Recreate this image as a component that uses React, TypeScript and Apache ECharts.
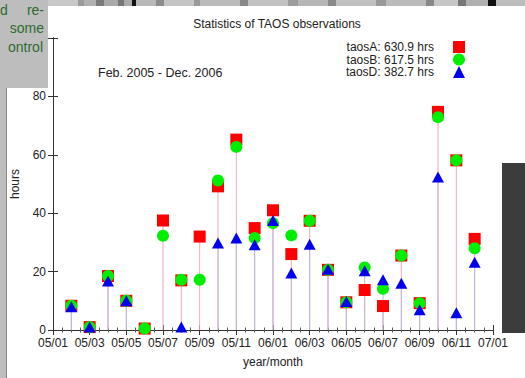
import React, { useEffect, useRef } from "react";
import * as echarts from "echarts";

// month index: 1 = 2005/02 ... 23 = 2006/12
const tickLabels = ["05/01", "05/03", "05/05", "05/07", "05/09", "05/11", "06/01", "06/03", "06/05", "06/07", "06/09", "06/11", "07/01"];
const seriesNames = ["taosA", "taosB", "taosD"];
const totals = ["630.9", "617.5", "382.7"];
const taosA = [8.3, 1, 18.5, 10, 0.5, 37.5, 17, 32, 49.2, 65.2, 34.9, 41, 26, 37.4, 20.6, 9.5, 13.7, 8.2, 25.5, 9.2, 74.7, 58.1, 31.2];
const taosB = [8.3, 1, 18.5, 10, 0.5, 32.3, 17.2, 17.2, 51.2, 62.7, 31.5, 36.6, 32.4, 37.4, 20.6, 9.5, 21.4, 14.1, 25.5, 9.2, 72.9, 58.1, 28];
const taosD = [8, 1, 16.8, 10, null, null, 1, null, 29.8, 31.5, 29.2, 37.5, 19.5, 29.4, 20.8, 9.8, 20.3, 17.2, 16, 6.9, 52.4, 5.9, 23.2];

const FONT = "'Liberation Sans', Arial, sans-serif";

const toPoints = (arr: (number | null)[]) =>
  arr.map((v, i) => (v === null ? null : [i + 1, v])).filter((p) => p !== null) as number[][];

export default function App() {
  const ref = useRef<HTMLDivElement>(null);
  useEffect(() => {
    if (!ref.current) return;
    const chart = echarts.init(ref.current, undefined, { renderer: "svg" });
    const xAxisBase = {
      type: "value",
      min: 0,
      max: 24,
      interval: 2,
      axisLine: { show: true, lineStyle: { color: "#333", width: 1 } },
      axisTick: { show: true, inside: true, length: 5, lineStyle: { color: "#333" } },
      minorTick: { show: true, splitNumber: 4, length: 2.5, lineStyle: { color: "#555" } },
      splitLine: { show: false },
    };
    const yAxisBase = {
      type: "value",
      min: 0,
      max: 100,
      interval: 20,
      axisLine: { show: true, lineStyle: { color: "#333", width: 1 } },
      axisTick: { show: true, inside: true, length: 5, lineStyle: { color: "#333" } },
      splitLine: { show: false },
    };
    const grey = "#bdbdbd";
    const green = "#2e6b2e";
    const topBlocks: [number, number, string][] = [
      [48, 30, "#c8c8c8"], [78, 6, "#9a9a9a"], [84, 12, "#b0b0b0"], [96, 8, "#7a7a7a"], [104, 14, "#a8a8a8"],
      [118, 6, "#777"], [124, 8, "#aaa"], [132, 4, "#111"], [136, 20, "#b8b8b8"], [156, 8, "#8c8c8c"],
      [164, 30, "#c4c4c4"], [194, 6, "#999"], [200, 40, "#bbb"], [240, 8, "#888"], [248, 40, "#c2c2c2"],
      [288, 10, "#9c9c9c"], [298, 30, "#b6b6b6"], [328, 8, "#8a8a8a"], [336, 40, "#c0c0c0"], [376, 10, "#999"],
      [386, 40, "#bababa"], [426, 8, "#888"], [434, 24, "#c6c6c6"], [458, 8, "#777"], [466, 22, "#b0b0b0"],
      [488, 8, "#111"], [496, 29, "#bcbcbc"],
    ];
    const sideText = (text: string, x: number, y: number, align: string) => ({
      type: "text",
      x,
      y,
      style: { text, fill: green, font: `14px ${FONT}`, textAlign: align, textVerticalAlign: "middle" },
      z: 102,
    });
    chart.setOption({
      animation: false,
      backgroundColor: "#fff",
      textStyle: { fontFamily: FONT },
      title: [
        {
          text: "Statistics of TAOS observations",
          left: 272,
          top: 13,
          textAlign: "center",
          textStyle: { fontFamily: FONT, fontSize: 12, fontWeight: "normal", color: "#222" },
        },
        {
          text: "Feb. 2005 - Dec. 2006",
          left: 93,
          top: 61,
          textStyle: { fontFamily: FONT, fontSize: 12.5, fontWeight: "normal", color: "#222" },
        },
      ],
      legend: {
        data: seriesNames,
        orient: "vertical",
        right: 60,
        top: 41,
        align: "right",
        itemWidth: 12,
        itemHeight: 12,
        itemGap: 0.5,
        padding: 0,
        formatter: (name: string) => `${name}: ${totals[seriesNames.indexOf(name)]} hrs`,
        textStyle: { fontFamily: FONT, fontSize: 12, color: "#222", lineHeight: 12, padding: [0, 14, 0, 0] },
      },
      grid: { left: 53, right: 32, top: 38, bottom: 48, containLabel: false },
      xAxis: [
        {
          ...xAxisBase,
          position: "bottom",
          name: "year/month",
          nameLocation: "middle",
          nameGap: 26,
          nameTextStyle: { fontFamily: FONT, fontSize: 12, color: "#222" },
          axisLabel: {
            fontFamily: FONT,
            fontSize: 12,
            lineHeight: 12,
            color: "#222",
            margin: 7,
            formatter: (v: number) => tickLabels[Math.round(v / 2)] ?? "",
          },
        },
        { ...xAxisBase, position: "top", axisLabel: { show: false } },
      ],
      yAxis: [
        {
          ...yAxisBase,
          position: "left",
          name: "hours",
          nameLocation: "middle",
          nameGap: 32,
          nameRotate: 90,
          nameTextStyle: { fontFamily: FONT, fontSize: 12, color: "#222" },
          axisLabel: {
            fontFamily: FONT,
            fontSize: 12,
            lineHeight: 11,
            color: "#222",
            margin: 7,
            formatter: (v: number) => (v >= 100 ? "" : String(v)),
          },
        },
        { ...yAxisBase, position: "right", axisLabel: { show: false } },
      ],
      series: [
        {
          name: "taosA stem",
          type: "bar",
          data: toPoints(taosA),
          barWidth: 1,
          barGap: "-100%",
          itemStyle: { color: "#f4a8b6" },
          silent: true,
          z: 1,
        },
        {
          name: "taosD stem",
          type: "bar",
          data: toPoints(taosD),
          barWidth: 1,
          barGap: "-100%",
          itemStyle: { color: "#b8bae2" },
          silent: true,
          z: 1,
        },
        {
          name: "taosA",
          type: "scatter",
          data: toPoints(taosA),
          symbol: "rect",
          symbolSize: 12,
          itemStyle: { color: "#ff0000", opacity: 1 },
          z: 3,
        },
        {
          name: "taosB",
          type: "scatter",
          data: toPoints(taosB),
          symbol: "circle",
          symbolSize: 12,
          itemStyle: { color: "#00ee00", opacity: 1 },
          z: 4,
        },
        {
          name: "taosD",
          type: "scatter",
          data: toPoints(taosD),
          symbol: "triangle",
          symbolSize: [12, 11],
          itemStyle: { color: "#0000ee", opacity: 1 },
          z: 5,
        },
      ],
      graphic: [
        { type: "rect", shape: { x: 0, y: 0, width: 7, height: 378 }, style: { fill: grey }, z: 100 },
        { type: "rect", shape: { x: 6, y: 88, width: 1, height: 290 }, style: { fill: "#8a8a8a" }, z: 101 },
        { type: "rect", shape: { x: 0, y: 0, width: 48, height: 88 }, style: { fill: grey }, z: 100 },
        ...topBlocks.map(([x, w, c]) => ({
          type: "rect",
          shape: { x, y: 0, width: w, height: 6 },
          style: { fill: c },
          z: 100,
        })),
        { type: "rect", shape: { x: 502, y: 163, width: 23, height: 170 }, style: { fill: "#3c3c3c" }, z: 100 },
        sideText("d", 0, 10, "left"),
        sideText("re-", 44, 10, "right"),
        sideText("some", 44, 28, "right"),
        sideText("ontrol", 43, 47, "right"),
      ],
    });
    return () => chart.dispose();
  }, []);
  return <div ref={ref} style={{ width: 525, height: 378, position: "absolute", left: 0, top: 0 }} />;
}
